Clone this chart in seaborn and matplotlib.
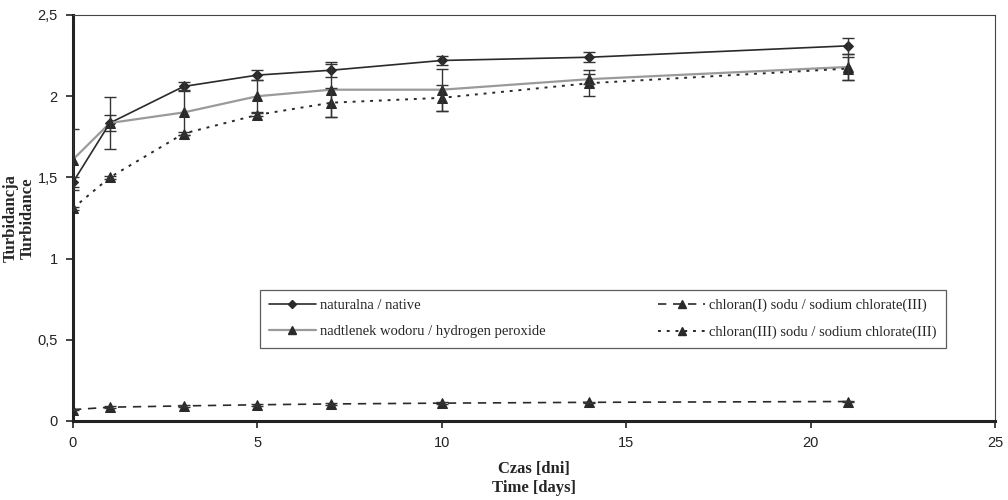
import matplotlib
matplotlib.use("Agg")
import matplotlib.pyplot as plt
import seaborn as sns
import pandas as pd
import numpy as np
from matplotlib.ticker import FuncFormatter, MultipleLocator

days = [0, 1, 3, 5, 7, 10, 14, 21]

native = [1.47, 1.835, 2.06, 2.13, 2.16, 2.22, 2.24, 2.31]
native_err = [0.03, 0.05, 0.03, 0.03, 0.04, 0.03, 0.03, 0.05]

peroxide = [1.61, 1.835, 1.90, 2.00, 2.04, 2.04, 2.105, 2.18]
peroxide_err = [0.19, 0.16, 0.14, 0.10, 0.17, 0.13, 0.03, 0.08]

chlorate_i = [0.07, 0.085, 0.093, 0.10, 0.105, 0.11, 0.115, 0.12]
chlorate_i_err = [0.005, 0.005, 0.005, 0.005, 0.005, 0.005, 0.005, 0.005]

chlorate_iii = [1.31, 1.50, 1.77, 1.885, 1.96, 1.99, 2.08, 2.17]
chlorate_iii_err = [0.01, 0.01, 0.01, 0.01, 0.09, 0.08, 0.08, 0.07]

labels = ["naturalna / native",
          "nadtlenek wodoru / hydrogen peroxide",
          "chloran(I) sodu / sodium chlorate(III)",
          "chloran(III) sodu / sodium chlorate(III)"]

series = [native, peroxide, chlorate_i, chlorate_iii]
errors = [native_err, peroxide_err, chlorate_i_err, chlorate_iii_err]

sns.set_theme(style="white")
plt.rcParams['font.family'] = ['Liberation Sans', 'DejaVu Sans']

fig = plt.figure(figsize=(10.08, 5.0), dpi=100)
ax = fig.add_axes([0.0724, 0.158, 0.915, 0.812])

dark = "#2a2a2a"
styles = [
    dict(color=dark, linestyle="-", marker="D", markersize=5, lw=1.2),
    dict(color="#9a9a9a", linestyle="-", marker="^", markersize=7, lw=1.6),
    dict(color=dark, linestyle=(0, (5, 4)), marker="^", markersize=7, lw=1.2),
    dict(color=dark, linestyle=(0, (1.5, 3)), marker="^", markersize=7, lw=1.4),
]

handles = []
for vals, err, lab, st in zip(series, errors, labels, styles):
    df = pd.DataFrame({"x": days, "y": vals})
    sns.lineplot(data=df, x="x", y="y", ax=ax, color=st["color"],
                 linestyle=st["linestyle"], lw=st["lw"], marker=st["marker"],
                 markersize=st["markersize"], markerfacecolor=dark,
                 markeredgecolor=dark, label=lab, legend=False)
    ax.errorbar(days, vals, yerr=err, fmt="none", ecolor="#333333",
                elinewidth=1.0, capsize=4, capthick=1.0, zorder=3)
    h = plt.Line2D([], [], color=st["color"], linestyle=st["linestyle"],
                   lw=st["lw"], marker=st["marker"],
                   markersize=st["markersize"] - 1,
                   markerfacecolor=dark, markeredgecolor=dark)
    handles.append(h)

ax.set_xlim(0, 25)
ax.set_ylim(0, 2.5)
ax.xaxis.set_major_locator(MultipleLocator(5))
ax.yaxis.set_major_locator(MultipleLocator(0.5))
fmt = FuncFormatter(lambda v, p: ("%g" % v).replace(".", ","))
ax.yaxis.set_major_formatter(fmt)
ax.xaxis.set_major_formatter(fmt)

for s in ["left", "bottom"]:
    ax.spines[s].set_linewidth(2.2)
    ax.spines[s].set_color("#222222")
for s in ["top", "right"]:
    ax.spines[s].set_linewidth(0.8)
    ax.spines[s].set_color("#444444")

ax.tick_params(axis="both", which="major", direction="out", length=5,
               width=1.2, color="#222222", labelsize=10.5, labelcolor="#222222",
               left=True, bottom=True, pad=6)

serif = ['Liberation Serif', 'DejaVu Serif']
ax.set_xlabel("Czas [dni]\nTime [days]", family=serif, fontweight="bold",
              fontsize=12, linespacing=1.25)
ax.xaxis.set_label_coords(0.5, -0.098)
ax.set_ylabel("Turbidancja\nTurbidance", family=serif, fontweight="bold",
              fontsize=12, linespacing=1.1)
ax.yaxis.set_label_coords(-0.040, 0.5)

leg = ax.legend(handles, labels,
                ncol=2, loc="lower left",
                bbox_to_anchor=(0.195, 0.163, 0.759, 0.16), mode="expand",
                frameon=True, fancybox=False, edgecolor="#333333",
                prop={"family": serif, "size": 10.5}, handlelength=3.2,
                borderpad=0.6, labelspacing=0.9, columnspacing=2.0,
                handletextpad=0.3)
leg.get_frame().set_linewidth(0.9)

fig.savefig("out.png", dpi=100)
